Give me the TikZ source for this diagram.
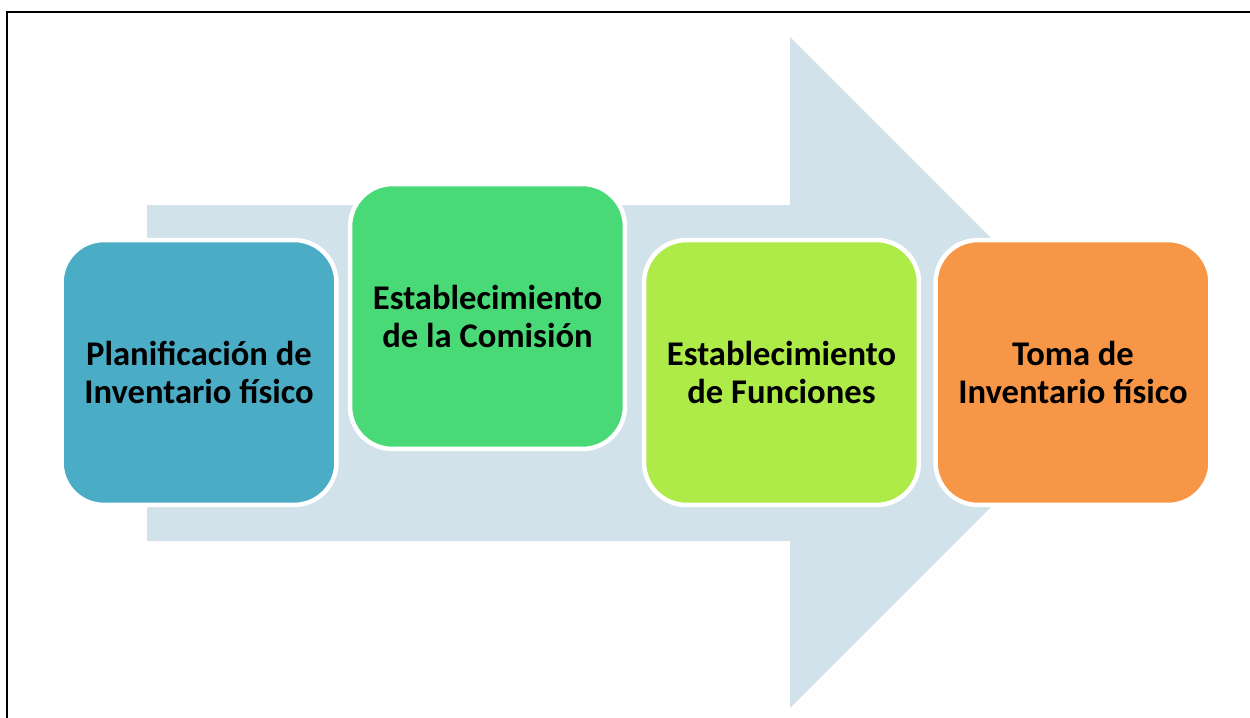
\documentclass[tikz,border=0pt]{standalone}
\usepackage{fontspec}
\setmainfont{Carlito}
\usepackage{xcolor}
\usepackage{tikz}
\usetikzlibrary{shapes}
\usetikzlibrary{positioning}
\definecolor{arrowgray}{HTML}{D1E2EA}
\definecolor{stepblue}{HTML}{4BACC6}
\definecolor{stepgreen}{HTML}{4AD977}
\definecolor{steplime}{HTML}{AEEA48}
\definecolor{steporange}{HTML}{F79646}

\begin{document}
\begin{tikzpicture}[
	x=0.02cm, y=-0.02cm,
	stepbox/.style={rounded corners=0.85cm, draw=white, line width=0.09cm, minimum width=5.5cm, minimum height=5.3cm, align=center, font=\fontsize{19.7}{21.2}\selectfont\bfseries, text=black},
	frameline/.style={line width=0.055cm, black}
]
\useasboundingbox (0,0) rectangle (1250,717);

\fill[arrowgray] (147,205) -- (790,205) -- (790,37) -- (1125.5,372.5) -- (790,708) -- (790,541) -- (147,541) -- cycle;

\node[stepbox, fill=stepblue]   (plan)     at (199,372.5) {Planificación de\\Inventario físico};
\node[stepbox, fill=stepgreen]  (comision) at (487.5,316.5) {Establecimiento\\de la Comisión};
\node[stepbox, fill=steplime]   (funcion)  at (781.5,372.5) {Establecimiento\\de Funciones};
\node[stepbox, fill=steporange] (toma)     at (1073,372.5) {Toma de\\Inventario físico};

\draw[frameline] (7,740) -- (7,12) -- (1270,12);

\end{tikzpicture}
\end{document}
